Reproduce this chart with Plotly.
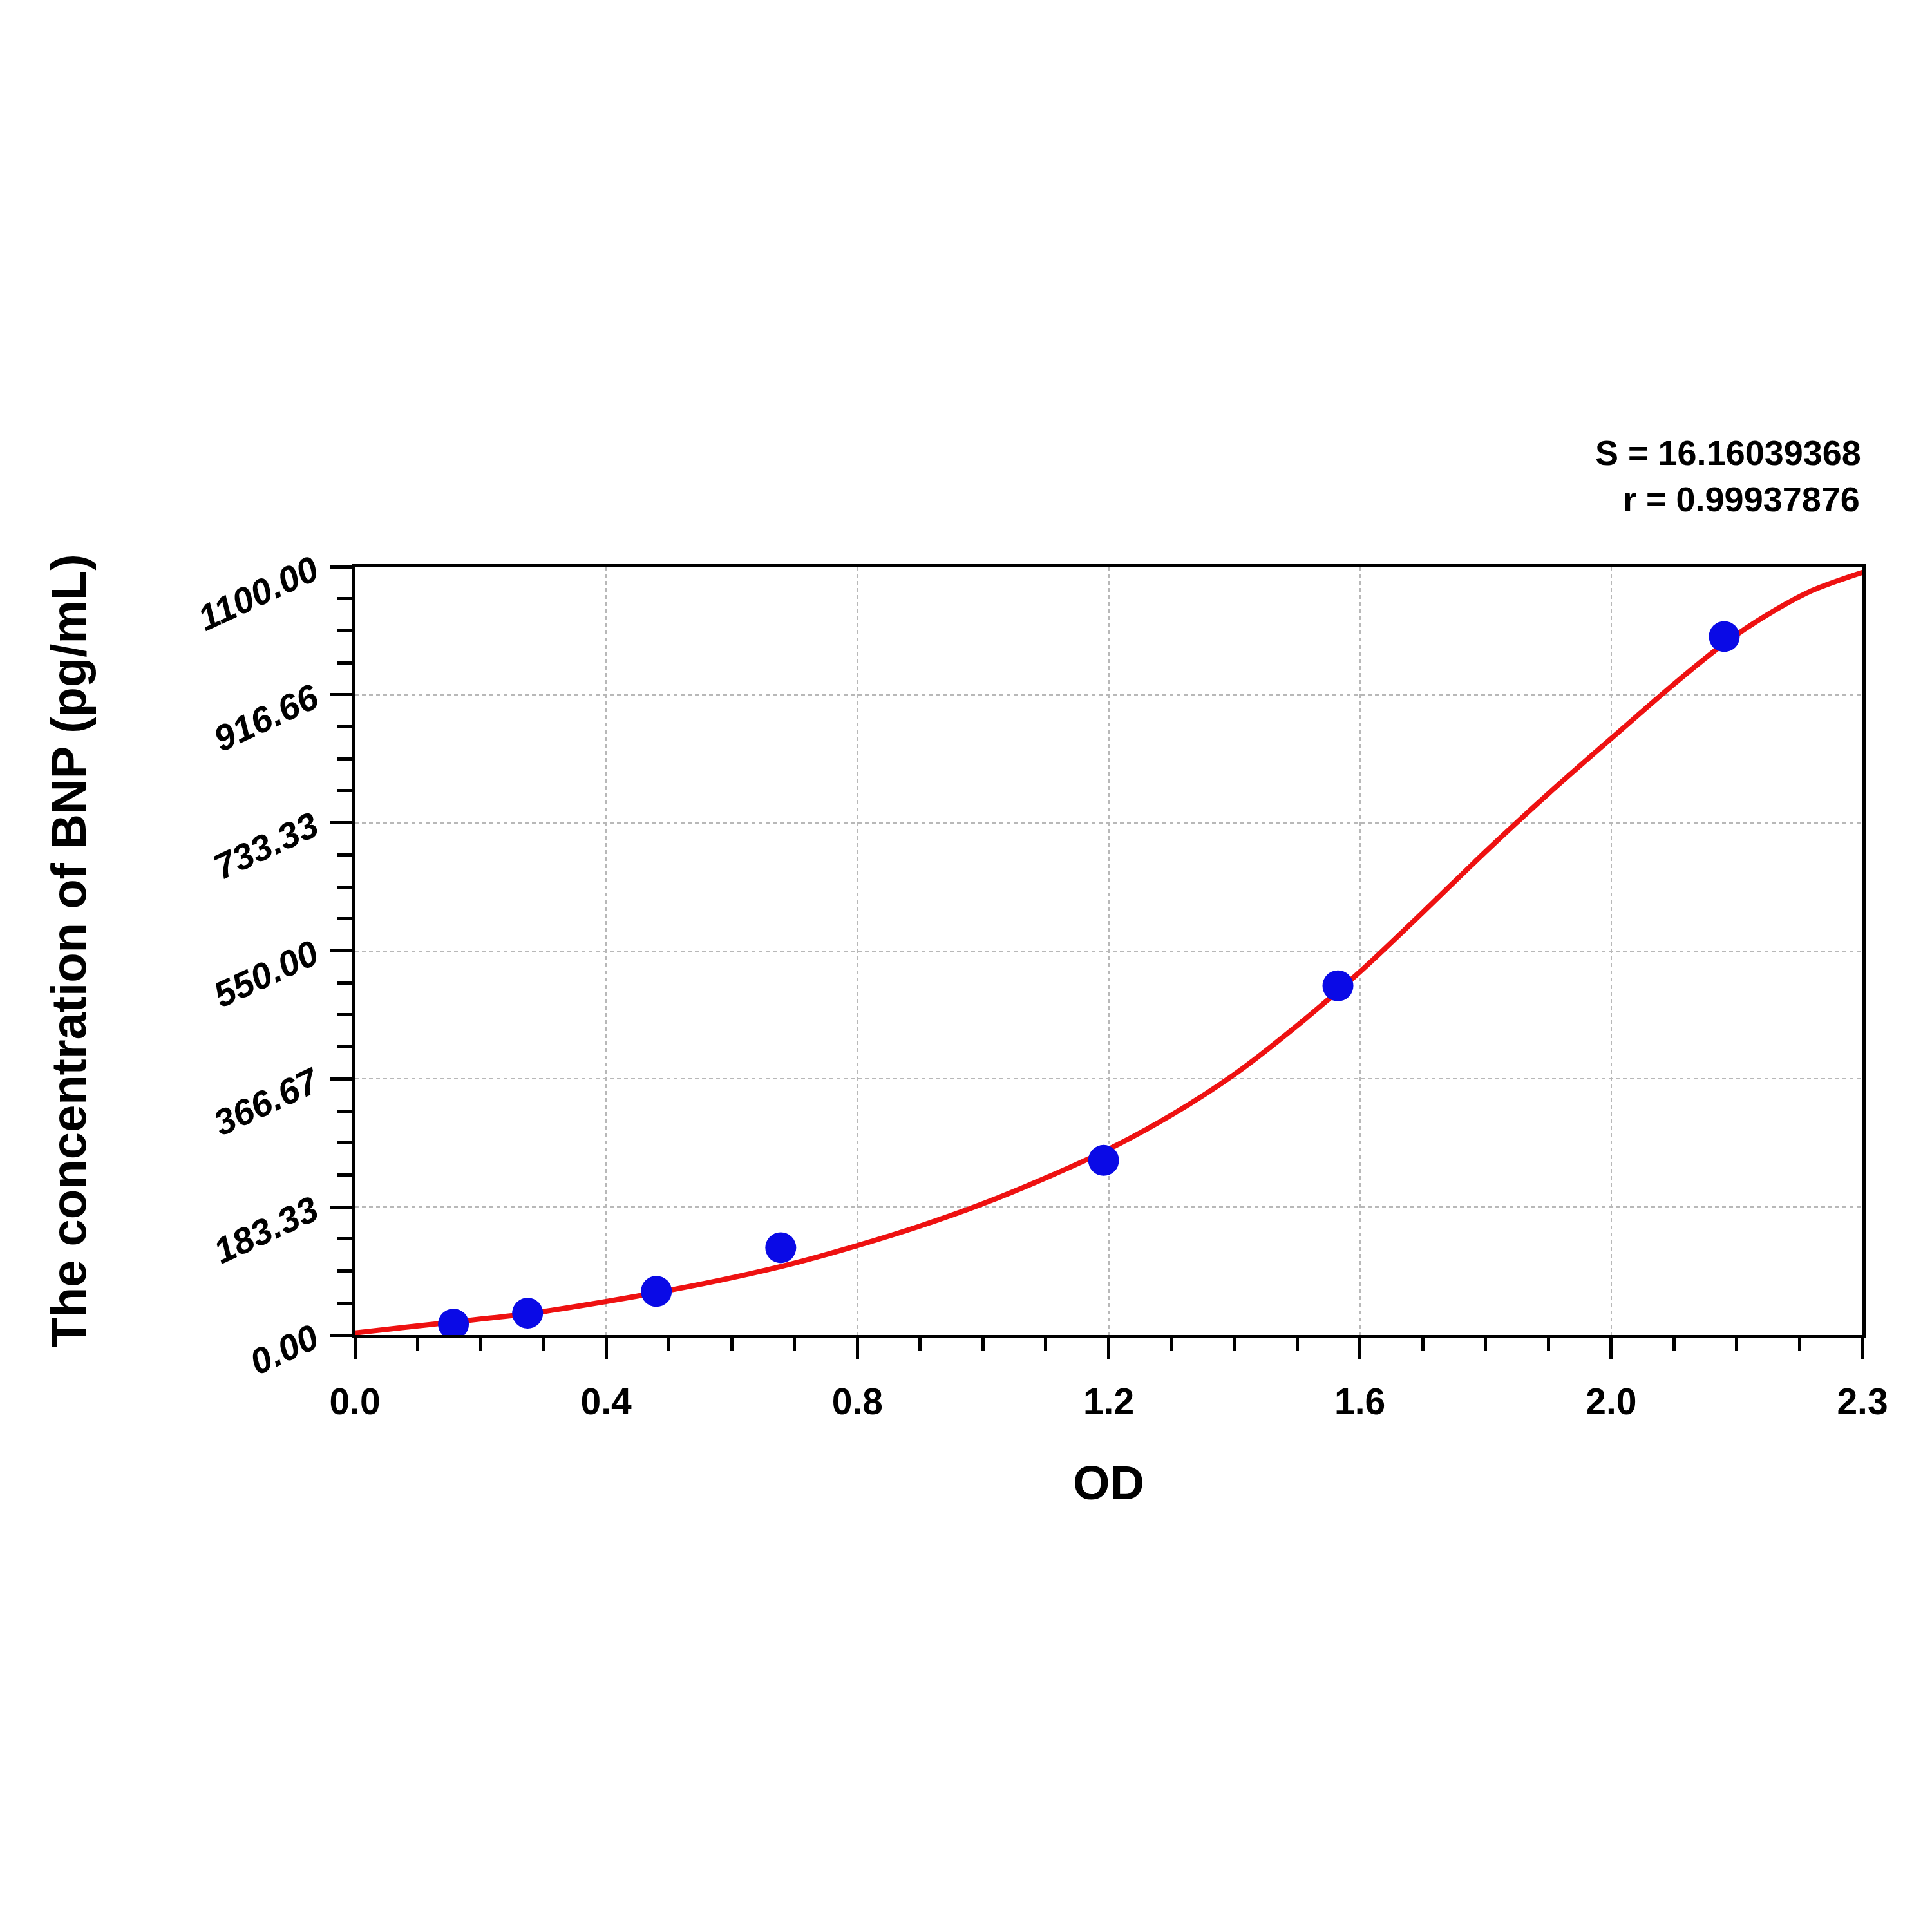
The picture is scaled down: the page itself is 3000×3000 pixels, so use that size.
import plotly.graph_objects as go

# ---- DATA ---- #
# standard points (OD vs concentration)
od_points = [0.157, 0.275, 0.480, 0.678, 1.192, 1.565, 2.180]
conc_points = [15.63, 31.25, 62.5, 125, 250, 500, 1000]

# fitted curve
curve_od = [0, 0.08, 0.16, 0.28, 0.4, 0.5, 0.6, 0.7, 0.8, 0.9, 1.0, 1.1, 1.2, 1.3,
            1.4, 1.5, 1.6, 1.7, 1.8, 1.9, 2.0, 2.1, 2.18, 2.25, 2.32, 2.4]
conc_curve = [3, 11, 19, 31, 48, 64, 82, 103, 128, 156, 188, 225, 266, 315,
              373, 443, 520, 605, 692, 775, 854, 932, 990, 1032, 1066, 1092]

x_tickvals = [0, 0.4, 0.8, 1.2, 1.6, 2.0, 2.4]
x_ticktext = ["0.0", "0.4", "0.8", "1.2", "1.6", "2.0", "2.3"]
y_tickvals = [0, 183.333, 366.667, 550, 733.333, 916.666, 1100]
y_ticktext = ["0.00", "183.33", "366.67", "550.00", "733.33", "916.66", "1100.00"]

stat_s = "S = 16.16039368"
stat_r = "r = 0.99937876"

NARROW = "Liberation Sans Narrow, Arial Narrow, Liberation Sans, Arial"
SANS = "Liberation Sans, Arial, sans-serif"

# ---- PLOT ---- #
fig = go.Figure()

fig.add_trace(go.Scatter(
    x=curve_od, y=conc_curve,
    mode="lines",
    line=dict(color="#ee1111", width=8, shape="spline", smoothing=0.8),
    showlegend=False
))

fig.add_trace(go.Scatter(
    x=od_points, y=conc_points,
    mode="markers",
    marker=dict(color="#0a0ae6", size=48),
    showlegend=False
))

axis_common = dict(
    showline=True, linecolor="black", linewidth=5, mirror=True,
    ticks="outside", tickcolor="black", tickwidth=5,
    showgrid=True, gridcolor="#b8b8b8", gridwidth=2, griddash="6px,5px",
    zeroline=False,
)

fig.update_xaxes(
    range=[0, 2.4],
    tickmode="array", tickvals=x_tickvals, ticktext=x_ticktext,
    ticklen=32, ticklabelstandoff=18,
    tickfont=dict(family=NARROW, size=57, color="black", weight="bold"),
    minor=dict(tickmode="linear", tick0=0, dtick=0.1, ticks="outside",
               ticklen=20, tickwidth=5, tickcolor="black", showgrid=False),
    **axis_common
)

fig.update_yaxes(
    range=[0, 1100],
    tickmode="array", tickvals=y_tickvals, ticktext=y_ticktext,
    ticklen=34, tickangle=-25, ticklabelstandoff=14,
    tickfont=dict(family=SANS, size=56, color="black", weight="bold", style="italic"),
    minor=dict(tickmode="linear", tick0=0, dtick=1100 / 24, ticks="outside",
               ticklen=22, tickwidth=5, tickcolor="black", showgrid=False),
    **axis_common
)

annotations = [
    dict(text="The concentration of BNP (pg/mL)", x=-0.19, y=0.5, xref="paper", yref="paper",
         textangle=-90, showarrow=False, xanchor="center", yanchor="middle",
         font=dict(family=SANS, size=76, color="black", weight="bold")),
    dict(text="OD", x=0.5, y=-0.192, xref="paper", yref="paper",
         showarrow=False, xanchor="center", yanchor="middle",
         font=dict(family=SANS, size=74, color="black", weight="bold")),
    dict(text=stat_s, x=1.0, y=1.148, xref="paper", yref="paper",
         showarrow=False, xanchor="right", yanchor="middle",
         font=dict(family=NARROW, size=54, color="black", weight="bold")),
    dict(text=stat_r, x=0.999, y=1.088, xref="paper", yref="paper",
         showarrow=False, xanchor="right", yanchor="middle",
         font=dict(family=NARROW, size=54, color="black", weight="bold")),
]

fig.update_layout(
    width=3000, height=3000,
    margin=dict(l=543, r=116, t=872, b=935),
    plot_bgcolor="white", paper_bgcolor="white",
    annotations=annotations,
)

fig.write_html("out.html")
